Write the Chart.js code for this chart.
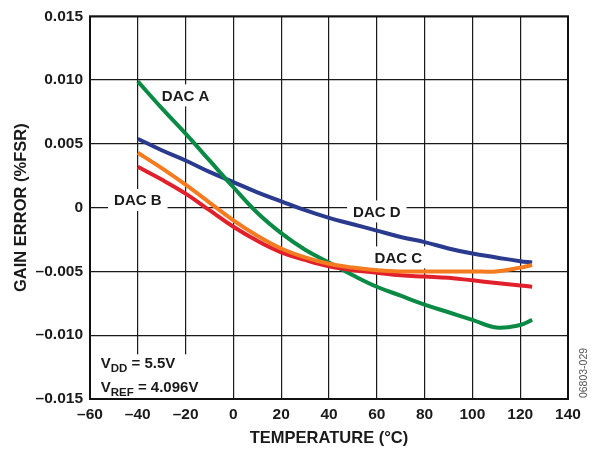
<!DOCTYPE html>
<html>
<head>
<meta charset="utf-8">
<script src="https://cdn.jsdelivr.net/npm/chart.js@4.4.1/dist/chart.umd.min.js"></script>
<style>
  html, body { margin: 0; padding: 0; background: #fff; }
</style>
</head>
<body>
<canvas id="gainChart" width="592" height="451"></canvas>
<script>
// temperatura (°C) e erro de ganho (%FSR)
const temps = [-40, -30, -20, -10, 0, 10, 20, 30, 40, 50, 60, 70, 80, 90, 100, 110, 120, 125];
const dacA = [0.0099, 0.0078, 0.0058, 0.0037, 0.0016, -0.0004, -0.0020, -0.0033, -0.0043, -0.0053, -0.0062, -0.0069, -0.0076, -0.0082, -0.0088, -0.0094, -0.0092, -0.0088];
const dacB = [0.0032, 0.0022, 0.0011, -0.0002, -0.0015, -0.0026, -0.0035, -0.0041, -0.0046, -0.0049, -0.0051, -0.0053, -0.0054, -0.0055, -0.0057, -0.0059, -0.0061, -0.0062];
const dacC = [0.0043, 0.0031, 0.0018, 0.0004, -0.0010, -0.0022, -0.0032, -0.0039, -0.0044, -0.0047, -0.0049, -0.0050, -0.0050, -0.0050, -0.0050, -0.0050, -0.0047, -0.0045];
const dacD = [0.0054, 0.0045, 0.0037, 0.0028, 0.0020, 0.0012, 0.0005, -0.0002, -0.0008, -0.0013, -0.0018, -0.0023, -0.0027, -0.0032, -0.0036, -0.0039, -0.0042, -0.0043];

const xTickValues = [-60, -40, -20, 0, 20, 40, 60, 80, 100, 120, 140];
const xTickLabels = ["–60", "–40", "–20", "0", "20", "40", "60", "80", "100", "120", "140"];
const yTickValues = [-0.015, -0.010, -0.005, 0, 0.005, 0.010, 0.015];
const yTickLabels = ["–0.015", "–0.010", "–0.005", "0", "0.005", "0.010", "0.015"];

const FONT = "'Liberation Sans', Arial, Helvetica, sans-serif";

// rótulos das curvas (posição em coordenadas de dados)
const curveLabels = [
  { text: "DAC A", x: -20, y: 0.0088 },
  { text: "DAC B", x: -40, y: 0.0006 },
  { text: "DAC D", x: 60, y: -0.0003 },
  { text: "DAC C", x: 69, y: -0.0039 }
];

function series(values) {
  return temps.map((t, i) => ({ x: t, y: values[i] }));
}

const overlay = {
  id: "overlay",
  beforeDatasetsDraw(chart) {
    const { ctx, scales: { x, y } } = chart;
    ctx.save();
    ctx.font = "bold 15px " + FONT;
    ctx.textAlign = "center";
    ctx.textBaseline = "middle";
    curveLabels.forEach(l => {
      const px = x.getPixelForValue(l.x);
      const py = y.getPixelForValue(l.y);
      const w = ctx.measureText(l.text).width + 12;
      ctx.fillStyle = "#fff";
      ctx.fillRect(px - w / 2, py - 11, w, 22);
      ctx.fillStyle = "#1a1a1a";
      ctx.fillText(l.text, px, py + 1);
    });

    // caixa das condições
    const bx = x.getPixelForValue(-58);
    const by = y.getPixelForValue(-0.0115);
    ctx.fillStyle = "#fff";
    ctx.fillRect(bx, by, 120, y.bottom - by - 1);
    ctx.fillStyle = "#1a1a1a";
    ctx.textAlign = "left";
    ctx.textBaseline = "alphabetic";
    const lx = x.getPixelForValue(-55.5);
    function sub(main, s, rest, yy) {
      ctx.font = "bold 15px " + FONT;
      ctx.fillText(main, lx, yy);
      let cx = lx + ctx.measureText(main).width;
      ctx.font = "bold 11.5px " + FONT;
      ctx.fillText(s, cx, yy + 4);
      cx += ctx.measureText(s).width;
      ctx.font = "bold 15px " + FONT;
      ctx.fillText(rest, cx, yy);
    }
    sub("V", "DD", " = 5.5V", y.getPixelForValue(-0.0125) + 1);
    sub("V", "REF", " = 4.096V", y.getPixelForValue(-0.0144) + 1);
    ctx.restore();
  },
  afterDraw(chart) {
    const { ctx, chartArea: a } = chart;
    ctx.save();
    ctx.strokeStyle = "#111";
    ctx.lineWidth = 2;
    ctx.strokeRect(a.left, a.top, a.right - a.left, a.bottom - a.top);
    ctx.translate(a.right + 16, a.bottom - 26);
    ctx.rotate(-Math.PI / 2);
    ctx.font = "10.5px " + FONT;
    ctx.fillStyle = "#555";
    ctx.textAlign = "center";
    ctx.textBaseline = "middle";
    ctx.fillText("06803-029", 0, 0);
    ctx.restore();
  }
};

function line(label, values, color) {
  return {
    label,
    data: series(values),
    borderColor: color,
    backgroundColor: color,
    borderWidth: 4,
    pointRadius: 0,
    tension: 0.4,
    fill: false
  };
}

new Chart(document.getElementById("gainChart"), {
  type: "line",
  data: {
    datasets: [
      line("DAC C", dacC, "#f47b20"),
      line("DAC B", dacB, "#e2202c"),
      line("DAC A", dacA, "#0a8a45"),
      line("DAC D", dacD, "#2a3b8f")
    ]
  },
  options: {
    responsive: false,
    animation: false,
    devicePixelRatio: 1,
    layout: { padding: { top: 16, right: 24, left: 0, bottom: 3 } },
    plugins: {
      legend: { display: false },
      tooltip: { enabled: false }
    },
    scales: {
      x: {
        type: "linear",
        min: -60,
        max: 140,
        afterFit: s => { s.height = 49; },
        afterBuildTicks: s => { s.ticks = xTickValues.map(v => ({ value: v })); },
        grid: { color: "#1a1a1a", lineWidth: 1.2, drawTicks: false },
        border: { display: false },
        ticks: {
          padding: 6,
          color: "#1a1a1a",
          font: { family: FONT, size: 15.5, weight: "bold" },
          maxRotation: 0,
          callback: (v, i) => xTickLabels[i]
        },
        title: {
          display: true,
          text: "TEMPERATURE (°C)",
          color: "#1a1a1a",
          font: { family: FONT, size: 16.5, weight: "bold" },
          padding: { top: 7, bottom: 0 }
        }
      },
      y: {
        type: "linear",
        min: -0.015,
        max: 0.015,
        afterFit: s => { s.width = 90; },
        afterBuildTicks: s => { s.ticks = yTickValues.map(v => ({ value: v })); },
        grid: { color: "#1a1a1a", lineWidth: 1.2, drawTicks: false },
        border: { display: false },
        ticks: {
          padding: 7,
          color: "#1a1a1a",
          font: { family: FONT, size: 15.5, weight: "bold" },
          callback: (v, i) => yTickLabels[i]
        },
        title: {
          display: true,
          text: "GAIN ERROR (%FSR)",
          color: "#1a1a1a",
          font: { family: FONT, size: 16.5, weight: "bold" },
          padding: { top: 12, bottom: 0 }
        }
      }
    }
  },
  plugins: [overlay]
});
</script>
</body>
</html>
